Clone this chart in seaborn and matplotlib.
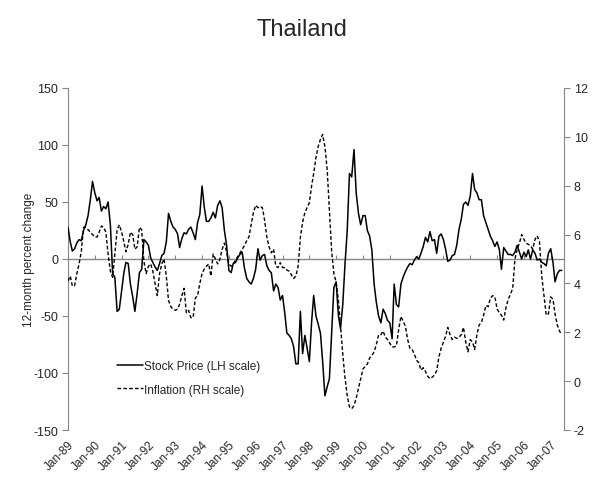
import numpy as np
import pandas as pd
import matplotlib
matplotlib.use("Agg")
import matplotlib.pyplot as plt
import matplotlib.dates as mdates
import seaborn as sns

# ---- data (monthly, Jan-1989 .. Jun-2007) ----
stock_price = [
    28, 15, 7, 9, 14, 17, 16, 25, 30, 38, 52, 68,
    58, 51, 54, 42, 46, 44, 50, 30, -13, -16, -46, -44,
    -28, -12, -3, -4, -22, -33, -46, -30, -12, -9, 17, 15,
    12, 1, -3, -7, -10, -4, 3, 5, 15, 40, 33, 28,
    26, 22, 10, 18, 23, 22, 26, 28, 23, 17, 32, 39,
    64, 45, 33, 33, 36, 41, 36, 47, 51, 45, 25, 12,
    -10, -12, -4, -3, 1, 4, 6, -8, -17, -20, -22, -17,
    -9, 9, -1, 3, 4, -6, -10, -12, -28, -22, -25, -36,
    -32, -48, -65, -67, -70, -77, -92, -92, -46, -83, -67, -78,
    -90, -55, -32, -50, -57, -65, -90, -120, -112, -105, -65, -25,
    -20, -50, -61, -40, -5, 25, 75, 72, 96, 58, 40, 30,
    38, 38, 25, 20, 8, -22, -38, -50, -56, -44, -48, -54,
    -56, -70, -22, -40, -42, -22, -16, -11, -7, -4, -5, -1,
    2, 0, 5, 11, 19, 15, 24, 16, 17, 5, 20, 22,
    17, 8, -2, -1, 3, 4, 12, 26, 35, 48, 50, 47,
    55, 75, 61, 58, 52, 52, 38, 32, 26, 20, 16, 11,
    15, 8, -9, 10, 7, 4, 4, 3, 6, 12, 6, 0,
    6, 2, 8, 0, 8, 5, -1, 0, -3, -4, -6, 5,
    9, -3, -20, -13, -10, -10,
]

inflation = [
    4.1, 4.3, 3.9, 3.9, 4.4, 4.8, 5.3, 6.3, 6.3, 6.2, 6.1, 6.0,
    5.9, 5.9, 6.1, 6.35, 6.3, 6.1, 5.2, 4.5, 4.25, 5.2, 6.2, 6.4,
    6.1, 5.7, 5.3, 5.6, 6.1, 6.0, 5.4, 5.5, 6.3, 6.2, 4.9, 4.4,
    4.7, 4.8, 4.5, 4.0, 3.5, 4.4, 4.8, 5.0, 4.3, 3.3, 3.05, 2.95,
    2.9, 2.95, 3.15, 3.5, 3.8, 2.8, 2.9, 2.6, 2.6, 3.4, 3.5, 4.0,
    4.4, 4.6, 4.7, 4.8, 4.3, 5.2, 5.0, 4.8, 5.0, 5.4, 5.65, 5.3,
    4.8, 4.7, 4.8, 4.95, 5.1, 5.25, 5.4, 5.55, 5.75, 5.9, 6.4, 6.9,
    7.2, 7.1, 7.15, 7.1, 6.6, 5.9, 5.5, 5.25, 5.4, 4.7, 4.65, 4.85,
    4.65, 4.65, 4.55, 4.5, 4.35, 4.2, 4.3, 4.7, 5.9, 6.5, 6.9, 7.1,
    7.3, 8.0, 8.5, 9.15, 9.6, 9.9, 10.1, 9.6, 8.65, 7.0, 5.3, 4.4,
    4.05, 3.3, 2.3, 1.1, 0.15, -0.6, -1.05, -1.13, -1.0, -0.7, -0.3, 0.1,
    0.5, 0.6, 0.7, 0.95, 1.05, 1.2, 1.5, 1.9, 1.9, 2.05, 1.8, 1.7,
    1.55, 1.4, 1.4, 1.45, 2.1, 2.65, 2.45, 2.25, 1.7, 1.35, 1.3, 1.1,
    0.85, 0.75, 0.45, 0.55, 0.4, 0.2, 0.1, 0.16, 0.25, 0.43, 1.0, 1.35,
    1.6, 1.85, 2.2, 1.9, 1.7, 1.8, 1.75, 1.8, 1.9, 2.2, 1.6, 1.2,
    1.7, 1.6, 1.3, 1.9, 2.3, 2.4, 2.7, 3.1, 3.05, 3.4, 3.5, 3.45,
    2.95, 2.8, 2.7, 2.5, 3.0, 3.35, 3.55, 3.8, 5.0, 5.4, 5.65, 6.0,
    5.8, 5.65, 5.6, 5.55, 5.4, 5.8, 5.95, 5.7, 4.3, 3.5, 2.7, 2.75,
    3.45, 3.35, 2.75, 2.3, 2.05, 1.9,
]

dates = pd.date_range("1989-01-01", periods=len(stock_price), freq="MS")
tick_years = list(range(1989, 2008))
series_labels = ["Stock Price (LH scale)", "Inflation (RH scale)"]
title = "Thailand"
ylabel = "12-month percent change"

df = pd.DataFrame({"date": dates, "stock": stock_price, "infl": inflation})

# ---- style ----
sns.set_style("white")
plt.rcParams["font.family"] = ["Liberation Sans", "DejaVu Sans"]
plt.rcParams["axes.unicode_minus"] = False
GRAY = "#868686"

fig = plt.figure(figsize=(6.03, 4.85), dpi=100)
ax = fig.add_axes([68 / 603, 1 - 431 / 485, (564 - 68) / 603, (431 - 89) / 485])
ax2 = ax.twinx()

# zero axis line
ax.axhline(0, color=GRAY, lw=1.0, zorder=1)

sns.lineplot(data=df, x="date", y="stock", ax=ax, color="black", lw=1.1,
             legend=False, zorder=3)
sns.lineplot(data=df, x="date", y="infl", ax=ax2, color="black", lw=1.0,
             linestyle=(0, (2.6, 1.6)), legend=False)

# ---- axes ----
xmin = mdates.date2num(pd.Timestamp("1989-01-01"))
xmax = mdates.date2num(pd.Timestamp("2007-07-01"))
ax.set_xlim(xmin, xmax)
ax.set_ylim(-150, 150)
ax2.set_ylim(-2, 12)
ax.set_yticks(np.arange(-150, 151, 50))
ax2.set_yticks(np.arange(-2, 13, 2))

tick_pos = [mdates.date2num(pd.Timestamp(f"{y}-01-01")) for y in tick_years]
tick_lab = [pd.Timestamp(f"{y}-01-01").strftime("%b-%y") for y in tick_years]
ax.set_xticks(tick_pos)
ax.set_xticklabels(tick_lab, rotation=45, ha="right", rotation_mode="anchor",
                   fontsize=8.5)
ax.tick_params(axis="x", length=0, pad=6)

for a in (ax, ax2):
    for s in a.spines.values():
        s.set_visible(False)
ax.spines["left"].set_visible(True)
ax.spines["left"].set_color(GRAY)
ax2.spines["right"].set_visible(True)
ax2.spines["right"].set_color(GRAY)

ax.tick_params(axis="y", direction="out", length=4, color=GRAY, labelsize=9,
               left=True, pad=3)
ax2.tick_params(axis="y", direction="out", length=4, color=GRAY, labelsize=9,
                right=True, pad=3)
ax.set_xlabel("")
ax.set_ylabel(ylabel, fontsize=8.5)
ax.yaxis.set_label_coords(-0.066, 0.5)
ax2.set_ylabel("")

# tick marks on the zero line
sec = ax.secondary_xaxis(0.5)
sec.set_xticks(tick_pos)
sec.set_xticklabels([""] * len(tick_pos))
sec.tick_params(axis="x", direction="out", length=3, color=GRAY, width=0.8)
for k in ("top", "bottom", "left", "right"):
    sec.spines[k].set_visible(False)

# legend
handles = [ax.get_lines()[1], ax2.get_lines()[0]]
leg = ax2.legend(handles, series_labels, loc="center left",
                 bbox_to_anchor=(0.098, 0.152), frameon=False, fontsize=8.5,
                 handlelength=2.2, handletextpad=0.15, labelspacing=0.95,
                 borderpad=0, borderaxespad=0)

fig.text(0.5, 1 - 30 / 485, title, ha="center", va="center", fontsize=17)

fig.savefig("out.png", dpi=100)
